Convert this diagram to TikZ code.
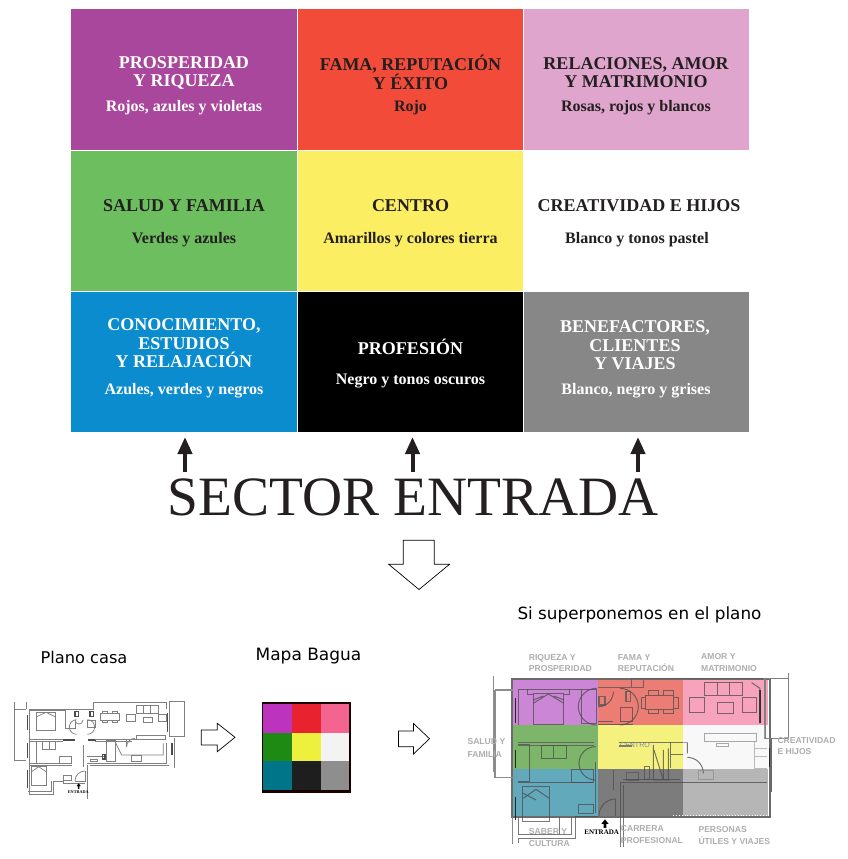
\documentclass[tikz,border=0pt]{standalone}
\usepackage{fontspec}
\setmainfont{Liberation Serif}
\newfontfamily\labelsans{DejaVu Sans}
\newfontfamily\plansans{Liberation Sans}
\usetikzlibrary{arrows.meta}
\definecolor{inkdark}{HTML}{231F20}
\definecolor{cPurple}{HTML}{A8479B}
\definecolor{cRed}{HTML}{F34B3A}
\definecolor{cPink}{HTML}{DFA5CC}
\definecolor{cGreen}{HTML}{6CBE5F}
\definecolor{cYellow}{HTML}{FCEE62}
\definecolor{cBlue}{HTML}{0A8CCF}
\definecolor{cGray}{HTML}{878787}
\definecolor{mA}{HTML}{BC33BE}
\definecolor{mB}{HTML}{E8232F}
\definecolor{mC}{HTML}{F46490}
\definecolor{mD}{HTML}{1E8A14}
\definecolor{mE}{HTML}{EEF03E}
\definecolor{mF}{HTML}{F3F3F3}
\definecolor{mG}{HTML}{007488}
\definecolor{mH}{HTML}{1E1E1E}
\definecolor{mI}{HTML}{8E8E8E}
\definecolor{oA}{HTML}{CC86D6}
\definecolor{oB}{HTML}{EC7D74}
\definecolor{oC}{HTML}{F7A3BD}
\definecolor{oD}{HTML}{7DB56B}
\definecolor{oE}{HTML}{F4F17F}
\definecolor{oF}{HTML}{F8F8F8}
\definecolor{oG}{HTML}{62A9BC}
\definecolor{oH}{HTML}{7C7C7C}
\definecolor{oI}{HTML}{B6B6B6}
\tikzset{
  title/.style={align=center,font=\fontsize{18}{18.4}\selectfont\bfseries,text=inkdark,inner sep=0pt},
  subt/.style={font=\fontsize{16}{17}\selectfont\bfseries,text=inkdark,inner sep=0pt},
  lighttext/.style={text=white},
  sectorarrow/.style={line width=4pt,-{Triangle[length=17pt,width=14pt]},color=inkdark},
  blockarrow/.style={draw=black,line width=0.7pt,fill=white},
  caption/.style={font=\labelsans\fontsize{16.2}{18}\selectfont,text=black,inner sep=0pt},
  planline/.style={draw=black!50,line width=0.75pt},
  plandark/.style={draw=black!70,line width=1.3pt},
  overline/.style={draw=black!70,opacity=.75,line width=1pt},
  overheavy/.style={draw=black!65,opacity=.8,line width=1.6pt},
  planlabel/.style={font=\plansans\bfseries\fontsize{8.6}{10}\selectfont,text=black!32,inner sep=0pt,anchor=base west},
}
\begin{document}
\begin{tikzpicture}[x=1pt,y=-1pt]
\useasboundingbox (0,0) rectangle (848,859);
% ---------- main grid
\fill[cPurple] (71,9) rectangle (296.5,149.5);
\fill[cRed] (297.5,9) rectangle (522.5,149.5);
\fill[cPink] (523.5,9) rectangle (749,149.5);
\fill[cGreen] (71,150.5) rectangle (296.5,290.5);
\fill[cYellow] (297.5,150.5) rectangle (522.5,290.5);
\fill[white] (523.5,150.5) rectangle (749,290.5);
\fill[cBlue] (71,291.5) rectangle (296.5,432);
\fill[black] (297.5,291.5) rectangle (522.5,432);
\fill[cGray] (523.5,291.5) rectangle (749,432);
% titles
\node[title,lighttext] (t1) at (184,73) {PROSPERIDAD\\Y RIQUEZA};
\node[subt,lighttext] (s1) at (184,108) {Rojos, azules y violetas};
\node[title] (t2) at (410.5,72.5) {FAMA, REPUTACIÓN\\Y ÉXITO};
\node[subt] (s2) at (410.5,108) {Rojo};
\node[title] (t3) at (636,72.5) {RELACIONES, AMOR\\Y MATRIMONIO};
\node[subt] (s3) at (636,108) {Rosas, rojos y blancos};
\node[title] (t4) at (184,206) {SALUD Y FAMILIA};
\node[subt] (s4) at (184,240) {Verdes y azules};
\node[title] (t5) at (410.5,206) {CENTRO};
\node[subt] (s5) at (410.5,240) {Amarillos y colores tierra};
\node[title] (t6) at (639,206) {CREATIVIDAD E HIJOS};
\node[subt] (s6) at (637,240) {Blanco y tonos pastel};
\node[title,lighttext] (t7) at (184,343.5) {CONOCIMIENTO,\\ESTUDIOS\\Y RELAJACIÓN};
\node[subt,lighttext] (s7) at (184,391) {Azules, verdes y negros};
\node[title,lighttext] (t8) at (410.5,346.5) {PROFESIÓN};
\node[subt,lighttext] (s8) at (410.5,381) {Negro y tonos oscuros};
\node[title,lighttext] (t9) at (635,345.5) {BENEFACTORES,\\CLIENTES\\Y VIAJES};
\node[subt,lighttext] (s9) at (636,391) {Blanco, negro y grises};
% sector entrada
\node[font=\fontsize{55.5}{60}\selectfont,text=inkdark,inner sep=0pt] (sector) at (413,497) {SECTOR ENTRADA};
\coordinate (a1s) at (185,472); \coordinate (a1e) at (185,437);
\coordinate (a2s) at (412.5,472); \coordinate (a2e) at (412.5,437);
\coordinate (a3s) at (638,472); \coordinate (a3e) at (638,437);
\draw[sectorarrow] (a1s) -- (a1e);
\draw[sectorarrow] (a2s) -- (a2e);
\draw[sectorarrow] (a3s) -- (a3e);
% block arrows
\draw[blockarrow] (403.3,540.3) -- (434.3,540.3) -- (434.3,564.3) -- (449.5,564.3) -- (419,589.5) -- (388.7,564.3) -- (403.3,564.3) -- cycle;
\draw[blockarrow] (201.3,730) -- (217.3,730) -- (217.3,723.3) -- (235,737.3) -- (217.3,751.7) -- (217.3,745) -- (201.3,745) -- cycle;
\draw[blockarrow] (398.5,731) -- (413.5,731) -- (413.5,723.5) -- (429.5,738.7) -- (413.5,754) -- (413.5,746.7) -- (398.5,746.7) -- cycle;
% captions
\node[caption] (c1) at (84,657) {Plano casa};
\node[caption,font=\labelsans\fontsize{17}{18}\selectfont] (c2) at (308.5,656) {Mapa Bagua};
\node[caption,font=\labelsans\fontsize{16.8}{18}\selectfont] (c3) at (639.5,615) {Si superponemos en el plano};
% ---------- Mapa Bagua
\fill[black!90!red] (261.7,702.3) rectangle (350.7,793.3);
\fill[mA] (263,704) rectangle (291.7,732.7);
\fill[mB] (291.7,704) rectangle (320.7,732.7);
\fill[mC] (320.7,704) rectangle (349.3,732.7);
\fill[mD] (263,732.7) rectangle (291.7,761.3);
\fill[mE] (291.7,732.7) rectangle (320.7,761.3);
\fill[mF] (320.7,732.7) rectangle (349.3,761.3);
\fill[mG] (263,761.3) rectangle (291.7,790);
\fill[mH] (291.7,761.3) rectangle (320.7,790);
\fill[mI] (320.7,761.3) rectangle (349.3,790);
% ---------- Plano casa (crop coordinates, 3x)
\begin{scope}[shift={(10,695)},x=0.3333pt,y=-0.3333pt]
\draw[planline] (13,20) -- (13,195) -- (48,195) (13,42) -- (48,42) (48,20) -- (48,42);
\draw[planline] (58,42) -- (250,42) -- (250,22) -- (470,22) -- (470,42);
\draw[planline] (58,46) -- (165,46);
\draw[planline] (478,20) rectangle (522,125);
\draw[planline] (58,42) -- (58,298) -- (130,298) -- (130,258) -- (160,258) -- (160,265) -- (225,265);
\draw[planline] (232,210) -- (232,312);
\draw[planline] (55,290) -- (125,290) -- (125,258);
\draw[planline] (232,205) -- (470,205) -- (470,145);
\draw[planline] (240,210) -- (478,210);
\draw[planline] (492,130) -- (492,218);
\draw[plandark] (52,60) -- (52,105) (52,145) -- (52,190) (52,225) -- (52,280) (472,55) -- (472,110) (486,145) -- (486,180);
% rooms
\draw[planline] (80,52) rectangle (135,105);
\draw[planline] (80,65) -- (108,52) -- (135,65);
\draw[planline] (165,42) -- (165,100) -- (195,100) -- (195,75);
\draw[plandark] (195,50) rectangle (205,65) (240,50) rectangle (250,65);
\draw[planline] (232,75) rectangle (255,97);
\draw[planline] (270,55) rectangle (328,75);
\draw[planline] (278,48) rectangle (292,55) (308,48) rectangle (322,55) (278,75) rectangle (292,82) (308,75) rectangle (322,82);
\draw[planline] (378,30) rectangle (400,55) (400,30) rectangle (422,55) (422,30) rectangle (444,55);
\draw[planline] (350,58) rectangle (376,80) (444,58) rectangle (470,80) (400,67) rectangle (428,82);
\draw[planline] (195,75) arc[start angle=180,end angle=0,radius=12];
% doors and corridor
\draw[planline] (200,118) arc[start angle=90,end angle=270,radius=22];
\draw[planline] (232,118) arc[start angle=90,end angle=-90,radius=22];
\draw[plandark] (160,135) -- (195,135) (235,135) -- (258,135);
\draw[planline] (58,133) -- (160,133) (58,140) -- (160,140) (255,133) -- (380,133) (255,140) -- (365,140);
\draw[planline] (380,122) rectangle (465,132);
\draw[planline] (350,155) arc[start angle=180,end angle=270,radius=25];
\draw[planline] (350,133) -- (350,155);
\draw[planline] (78,140) -- (78,205) -- (185,205) (58,205) -- (78,205);
\draw[planline] (97,140) rectangle (137,162) (117,140) -- (117,162);
\draw[planline] (148,183) rectangle (185,205);
\draw[planline] (65,215) rectangle (108,272);
\draw[planline] (65,230) -- (86,215) -- (108,230);
\draw[planline] (58,210) -- (185,210);
\draw[planline] (160,240) rectangle (185,255);
\draw[planline] (195,258) arc[start angle=180,end angle=270,radius=30];
\draw[planline] (225,228) -- (225,258) -- (195,258);
\draw[planline] (220,150) -- (220,215);
\draw[planline] (232,185) -- (285,185);
\draw[plandark] (278,178) rectangle (285,192);
\draw[planline] (240,192) rectangle (262,200);
\draw[planline] (290,135) rectangle (315,200);
\draw[planline] (315,140) -- (335,180) -- (460,180) -- (460,145);
\draw[planline] (365,180) rectangle (395,200);
% entrance mark
\fill[black] (206,265) -- (212,273) -- (208.5,273) -- (208.5,282) -- (203.5,282) -- (203.5,273) -- (200,273) -- cycle;
\node[font=\bfseries\fontsize{4.2}{5}\selectfont,text=black,inner sep=0pt] (ent1) at (205,290) {ENTRADA};
\end{scope}
% ---------- Superposed plan (crop coordinates, 3x)
\begin{scope}[shift={(450,590)},x=0.3333pt,y=-0.3333pt]
\fill[oA] (190,270) rectangle (445,405);
\fill[oB] (445,270) rectangle (700,405);
\fill[oC] (700,270) rectangle (955,405);
\fill[oD] (190,405) rectangle (445,537);
\fill[oE] (445,405) rectangle (700,537);
\fill[oF] (700,405) rectangle (955,537);
\fill[oG] (190,537) rectangle (445,677);
\fill[oH] (445,537) rectangle (700,677);
\fill[oI] (700,537) rectangle (955,677);
\draw[draw=black!58,line width=2.2pt] (185,268) rectangle (960,680);
% outside walls
\draw[draw=black!45,line width=1.2pt] (130,258) -- (130,545) (135,300) -- (188,300) (135,300) -- (135,562) -- (200,562);
\draw[draw=black!45,line width=1pt] (188,680) -- (188,762);
\draw[overline] (205,680) -- (205,735) -- (365,735) -- (365,680) (205,760) -- (205,745) -- (378,745) -- (378,680) -- (445,680) (330,680) -- (330,735);
\draw[overline] (512,770) -- (512,578) -- (950,578) (520,770) -- (520,585);
\draw[overheavy] (445,292) -- (545,292) -- (545,265) -- (950,265) (580,270) -- (580,292) -- (545,292);
\draw[draw=black!50,line width=1.4pt] (940,265) -- (1015,265) -- (1015,445) -- (945,445) -- (945,268);
\draw[draw=black!50,line width=1pt] (1015,250) -- (1015,265);
\draw[draw=black!60,line width=1.2pt] (965,445) -- (965,605);
\draw[draw=black!85,line width=1.5pt] (958,475) -- (958,530) (197,480) -- (197,535) (930,300) -- (930,400) (197,325) -- (197,398) (197,620) -- (197,690);
% purple room
\draw[overline] (205,298) -- (440,298) (205,298) -- (205,405);
\draw[overline] (250,310) rectangle (342,405) (232,298) -- (232,315) -- (250,315) (342,315) -- (358,315) -- (358,298);
\draw[overline] (250,340) -- (295,312) -- (342,340) (250,330) -- (280,318) (342,330) -- (312,318);
\draw[overline] (395,298) -- (395,400) -- (440,400) -- (440,298);
% red room
\draw[overheavy] (447,320) rectangle (465,345) (528,305) rectangle (542,335);
\draw[overline] (512,352) rectangle (548,395);
\draw[overline] (445,350) arc[start angle=90,end angle=0,radius=45];
\draw[overline] (490,395) -- (445,395);
\draw[overline] (445,403) -- (548,403);
\draw[overline] (587,318) rectangle (672,360) (597,303) rectangle (625,318) (640,303) rectangle (670,318) (597,360) rectangle (625,370) (640,360) rectangle (670,370) (575,322) rectangle (587,355) (672,322) rectangle (686,355);
% pink room
\draw[overline] (765,278) rectangle (803,318) (803,278) rectangle (840,318) (840,278) rectangle (878,318) (720,322) rectangle (765,368) (878,322) rectangle (920,368) (803,338) rectangle (852,370);
\draw[overline] (905,278) -- (930,295) -- (930,400);
% doors
\draw[overline] (440,405) arc[start angle=90,end angle=270,radius=55];
\draw[overline] (510,405) arc[start angle=90,end angle=-90,radius=55];
\draw[overheavy] (205,457) -- (432,457) (205,467) -- (432,467) (508,457) -- (700,457) (508,468) -- (545,468);
% green room
\draw[overline] (205,465) -- (240,465) -- (240,575) -- (205,575);
\draw[overline] (275,467) rectangle (350,505) (312,467) -- (312,505);
\draw[overline] (365,540) rectangle (430,578);
\draw[overline] (205,578) -- (430,578) (437,515) -- (437,670);
% teal room
\draw[overline] (218,590) rectangle (298,695);
\draw[overline] (220,625) -- (258,598) -- (298,625) (220,610) -- (258,630);
\draw[overline] (437,570) arc[start angle=90,end angle=180,radius=50] arc[start angle=180,end angle=270,radius=50];
\draw[overline] (385,645) rectangle (430,670);
% entry door
\draw[overline] (447,677) arc[start angle=180,end angle=270,radius=50];
\draw[overline] (497,627) -- (497,677);
\draw[overline] (490,540) -- (490,600);
% kitchen and bath
\draw[overline] (610,465) -- (610,570) (655,475) -- (655,570) (612,480) -- (640,570) (640,480) -- (640,570) (610,570) -- (660,570);
\draw[overline] (662,495) -- (700,495) (662,457) -- (662,535);
\draw[overheavy] (530,548) rectangle (565,570);
\draw[overline] (585,530) rectangle (600,570);
\draw[overline] (520,570) -- (690,570);
% white room
\draw[overline,draw=black!45] (700,457) -- (712,457);
\draw[overline] (712,457) -- (712,490) (712,502) arc[start angle=270,end angle=360,radius=48];
\draw[overline,draw=black!45] (765,432) rectangle (920,455) (800,460) rectangle (835,470);
\draw[overline,draw=black!35] (915,455) -- (915,535) -- (950,535) (915,475) -- (950,475) (915,500) -- (950,500) (945,405) -- (945,445);
\draw[overline,draw=black!45] (745,542) rectangle (790,570);
\draw[white,line width=0.8pt,dotted] (670,676) -- (950,676);
% labels
\node[font=\plansans\fontsize{7}{8}\selectfont,text=black!45,inner sep=0pt] (cen) at (555,464) {CENTRO};
\node[planlabel] (l1a) at (236,211) {RIQUEZA Y};
\node[planlabel] (l1b) at (236,246) {PROSPERIDAD};
\node[planlabel] (l2a) at (503,211) {FAMA Y};
\node[planlabel] (l2b) at (503,246) {REPUTACIÓN};
\node[planlabel] (l3a) at (753,209) {AMOR Y};
\node[planlabel] (l3b) at (753,244) {MATRIMONIO};
\node[planlabel] (l4a) at (52,464) {SALUD Y};
\node[planlabel] (l4b) at (52,503) {FAMILIA};
\node[planlabel] (l5a) at (982,460) {CREATIVIDAD};
\node[planlabel] (l5b) at (982,495) {E HIJOS};
\node[planlabel] (l6a) at (236,734) {SABER Y};
\node[planlabel] (l6b) at (236,769) {CULTURA};
\node[planlabel] (l7a) at (512,725) {CARRERA};
\node[planlabel] (l7b) at (512,760) {PROFESIONAL};
\node[planlabel] (l8a) at (745,729) {PERSONAS};
\node[planlabel] (l8b) at (745,764) {ÚTILES Y VIAJES};
% entrance
\fill[black] (465,688) -- (476,702) -- (469,702) -- (469,714) -- (461,714) -- (461,702) -- (454,702) -- cycle;
\node[font=\bfseries\fontsize{7}{8}\selectfont,text=black,inner sep=0pt] (ent2) at (455,728) {ENTRADA};
\end{scope}
\end{tikzpicture}
\end{document}
